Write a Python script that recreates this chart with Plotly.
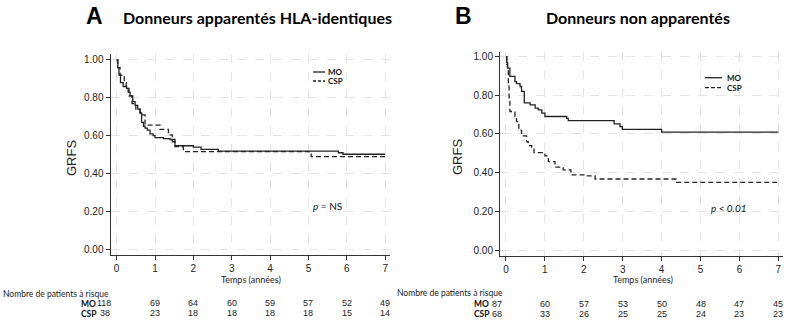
import plotly.graph_objects as go

# ---------------- data ----------------
years = [0, 1, 2, 3, 4, 5, 6, 7]
yticks = [0.0, 0.2, 0.4, 0.6, 0.8, 1.0]

a_mo_t = [0, 0.03, 0.06, 0.1, 0.17, 0.26, 0.3, 0.35, 0.42, 0.48, 0.55, 0.61, 0.65, 0.7, 0.74, 0.8, 0.87, 0.95, 1.0, 1.22, 1.39, 1.52, 2.0, 2.2, 2.65, 5.78, 5.9, 7.0]
a_mo_s = [1.0, 0.96, 0.92, 0.88, 0.86, 0.85, 0.83, 0.81, 0.78, 0.76, 0.74, 0.72, 0.67, 0.65, 0.64, 0.63, 0.61, 0.60, 0.59, 0.585, 0.58, 0.547, 0.54, 0.528, 0.519, 0.51, 0.502, 0.502]
a_csp_t = [0, 0.03, 0.09, 0.2, 0.25, 0.32, 0.4, 0.5, 0.61, 0.74, 1.13, 1.35, 1.45, 1.52, 1.74, 5.07, 7.0]
a_csp_s = [1.0, 0.96, 0.92, 0.88, 0.85, 0.81, 0.77, 0.74, 0.71, 0.656, 0.634, 0.604, 0.568, 0.542, 0.516, 0.49, 0.49]

b_mo_t = [0, 0.02, 0.04, 0.1, 0.23, 0.27, 0.36, 0.40, 0.47, 0.62, 0.75, 0.83, 0.92, 1.0, 1.56, 1.6, 2.78, 2.93, 2.99, 4.0, 7.0]
b_mo_s = [1.0, 0.97, 0.94, 0.897, 0.87, 0.86, 0.845, 0.82, 0.76, 0.75, 0.733, 0.724, 0.707, 0.69, 0.68, 0.669, 0.652, 0.638, 0.624, 0.609, 0.609]
b_csp_t = [0, 0.02, 0.04, 0.06, 0.08, 0.1, 0.23, 0.27, 0.33, 0.40, 0.53, 0.57, 0.66, 0.72, 1.0, 1.09, 1.26, 1.47, 1.67, 2.03, 2.29, 4.39, 7.0]
b_csp_s = [1.0, 0.96, 0.93, 0.86, 0.78, 0.716, 0.69, 0.664, 0.62, 0.59, 0.56, 0.54, 0.526, 0.503, 0.486, 0.457, 0.428, 0.414, 0.388, 0.383, 0.367, 0.35, 0.35]

a_risk_mo = [118, 69, 64, 60, 59, 57, 52, 49]
a_risk_csp = [38, 23, 18, 18, 18, 18, 15, 14]
b_risk_mo = [87, 60, 57, 53, 50, 48, 47, 45]
b_risk_csp = [68, 33, 26, 25, 25, 24, 23, 23]

# ---------------- figure ----------------
W, H = 800, 331
def px(x): return x / W
def py(y): return 1 - y / H

LINE = "#222222"
fig = go.Figure()
fig.add_trace(go.Scatter(x=a_mo_t, y=a_mo_s, mode="lines", line=dict(shape="hv", color=LINE, width=1.3),
                         xaxis="x", yaxis="y", showlegend=False))
fig.add_trace(go.Scatter(x=a_csp_t, y=a_csp_s, mode="lines", line=dict(shape="hv", color=LINE, width=1.3, dash="5px,3px"),
                         xaxis="x", yaxis="y", showlegend=False))
fig.add_trace(go.Scatter(x=b_mo_t, y=b_mo_s, mode="lines", line=dict(shape="hv", color=LINE, width=1.3),
                         xaxis="x2", yaxis="y2", showlegend=False))
fig.add_trace(go.Scatter(x=b_csp_t, y=b_csp_s, mode="lines", line=dict(shape="hv", color=LINE, width=1.3, dash="5px,3px"),
                         xaxis="x2", yaxis="y2", showlegend=False))

tickfont = dict(family="Liberation Sans, Arial", size=10, color="#222")
def xax(domain, rng):
    return dict(domain=domain, range=rng, tickvals=years, ticktext=[str(v) for v in years],
                showline=True, linecolor="#333", linewidth=1, ticks="outside", ticklen=4, tickcolor="#333",
                showgrid=True, gridcolor="#e4e4e4", griddash="dash", gridwidth=1, zeroline=False,
                tickfont=tickfont, fixedrange=True)
def yax(domain, rng, anchor):
    return dict(domain=domain, range=rng, tickvals=yticks, ticktext=["%.2f" % v for v in yticks],
                showline=True, linecolor="#333", linewidth=1, ticks="outside", ticklen=4, tickcolor="#333",
                showgrid=True, gridcolor="#e4e4e4", griddash="dash", gridwidth=1, zeroline=False,
                tickfont=tickfont, anchor=anchor, fixedrange=True)

fig.update_layout(
    width=W, height=H, margin=dict(l=0, r=0, t=0, b=0),
    paper_bgcolor="white", plot_bgcolor="white", showlegend=False,
    xaxis=xax([px(110.5), px(390.2)], [-0.16, 7.13]),
    yaxis=yax([py(255), py(54.3)], [-0.03, 1.03], "x"),
    xaxis2=dict(xax([px(500), px(783)], [-0.154, 7.12]), anchor="y2"),
    yaxis2=yax([py(256), py(51.5)], [-0.031, 1.026], "x2"),
)
fig.layout.xaxis.anchor = "y"

ann = []
def text(x, y, s, size=9, fam="Lato", bold=False, anchor="center", color="#111", italic=False, angle=0):
    if bold:
        s = "<b>" + s + "</b>"
    ann.append(dict(x=px(x), y=py(y), xref="paper", yref="paper", text=s, showarrow=False,
                    xanchor=anchor, yanchor="middle", textangle=angle, borderpad=0,
                    font=dict(family=fam, size=size, color=color)))

# titles
text(94, 16, "A", size=23, fam="Liberation Sans, Arial", bold=True, color="#000")
text(257, 17, "Donneurs apparentés HLA-identiques", size=16, bold=True, color="#000")
text(463, 16, "B", size=23, fam="Liberation Sans, Arial", bold=True, color="#000")
text(638, 17, "Donneurs non apparentés", size=16, bold=True, color="#000")

# y titles
text(71, 158, "GRFS", size=13, fam="Liberation Sans, Arial", angle=-90, color="#222")
text(458, 157, "GRFS", size=13, fam="Liberation Sans, Arial", angle=-90, color="#222")

# x titles
text(251, 279, "Temps (années)", size=9, color="#222")
text(643, 279, "Temps (années)", size=9, color="#222")

# p values
text(312, 206, "<i>p</i> = NS", size=10, anchor="left", color="#111")
text(710, 208, "<i>p &lt; 0.01</i>", size=10, anchor="left", color="#111")

# legends (manual)
shapes = []
def legline(x0, x1, y, dash):
    shapes.append(dict(type="line", xref="paper", yref="paper", x0=px(x0), x1=px(x1), y0=py(y), y1=py(y),
                       line=dict(color=LINE, width=1.3, dash=dash)))
legline(313, 325, 72, "solid"); legline(313, 325, 81, "3px,2px")
text(327, 72, "MO", size=8, bold=True, anchor="left")
text(327, 81, "CSP", size=8, bold=True, anchor="left")
legline(705, 722, 77.7, "solid"); legline(705, 722, 87.7, "4px,2px")
text(726, 77.7, "MO", size=8, bold=True, anchor="left")
text(726, 87.7, "CSP", size=8, bold=True, anchor="left")

# risk tables
text(2, 294, "Nombre de patients à risque", size=8.5, anchor="left", color="#222")
text(396, 292.5, "Nombre de patients à risque", size=8.5, anchor="left", color="#222")
text(80, 303.8, "MO", size=8.5, bold=True, anchor="left")
text(80, 313.5, "CSP", size=8.5, bold=True, anchor="left")
text(473, 304.3, "MO", size=8.5, bold=True, anchor="left")
text(473, 314, "CSP", size=8.5, bold=True, anchor="left")

def risk_row(vals, xref, first_px, yy):
    for i, v in enumerate(vals):
        font = dict(family="Liberation Sans, Arial", size=9, color="#222")
        if i == 0:
            ann.append(dict(x=px(first_px), y=py(yy), xref="paper", yref="paper", text=str(v), showarrow=False,
                            xanchor="center", yanchor="middle", borderpad=0, font=font))
        else:
            ann.append(dict(x=years[i], y=py(yy), xref=xref, yref="paper", text=str(v), showarrow=False,
                            xanchor="center", yanchor="middle", borderpad=0, font=font))
risk_row(a_risk_mo, "x", 104, 303.3)
risk_row(a_risk_csp, "x", 105, 313.3)
risk_row(b_risk_mo, "x2", 496.5, 304)
risk_row(b_risk_csp, "x2", 496.5, 314)

fig.update_layout(annotations=ann, shapes=shapes)
fig.write_html("out.html")
